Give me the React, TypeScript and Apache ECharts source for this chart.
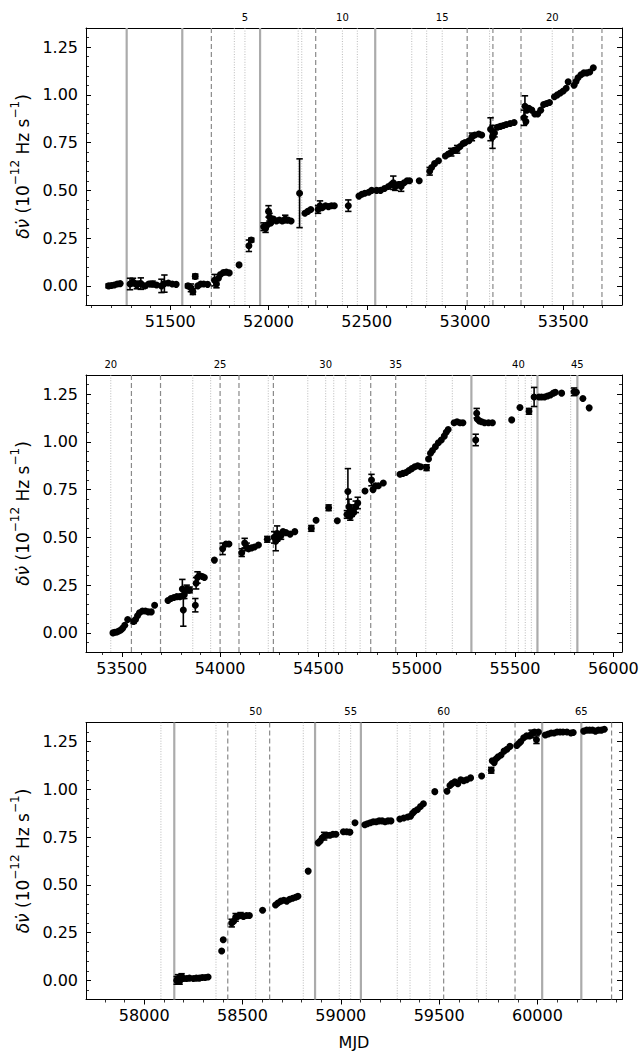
import React, { useEffect, useRef } from "react";
import * as echarts from "echarts";

// Glitch epochs (MJD) and their plotted style, glitch number = index + 1
const glitchMJD = [
  51278, 51561, 51709, 51826, 51880, 51957, 52151, 52169, 52240, 52376,
  52452, 52543, 52729, 52805, 52884, 53011, 53125, 53142, 53285, 53444,
  53549, 53697, 53861, 53952, 54000, 54096, 54245, 54271, 54446, 54537,
  54578, 54639, 54712, 54766, 54893, 55046, 55181, 55278, 55453, 55517,
  55552, 55583, 55614, 55783, 55817, 58085, 58153, 58365, 58425, 58567,
  58638, 58809, 58869, 58992, 59050, 59102, 59287, 59352, 59453, 59523,
  59692, 59740, 59886, 60024, 60223, 60377,
];
const glitchKind = [
  "solid", "solid", "dashed", "dotted", "dotted", "solid", "dotted", "dotted", "dashed", "dotted",
  "dotted", "solid", "dotted", "dotted", "dotted", "dashed", "dotted", "dashed", "dashed", "dotted",
  "dashed", "dashed", "dotted", "dotted", "dashed", "dashed", "dotted", "dashed", "dotted", "dotted",
  "dotted", "dotted", "dotted", "dashed", "dashed", "dotted", "dotted", "solid", "dotted", "dotted",
  "dotted", "dotted", "solid", "dotted", "solid", "dotted", "solid", "dotted", "dashed", "dotted",
  "dashed", "dotted", "solid", "dotted", "dotted", "solid", "dotted", "dotted", "dotted", "dashed",
  "dotted", "dotted", "dashed", "solid", "solid", "dashed",
];

// MJD window of each panel
const panelRanges = [
  [51071, 53799],
  [53318, 56044],
  [57704, 60430],
];
const yRange = [-0.1, 1.35];
const yMajor = [0, 0.25, 0.5, 0.75, 1.0, 1.25];

// [MJD, delta nu-dot (1e-12 Hz/s), 1-sigma error]
const panel1 = [
  [51186, 0.0, 0.01], [51200, 0.002, 0], [51215, 0.005, 0], [51230, 0.01, 0], [51245, 0.012, 0],
  [51295, 0.01, 0.03], [51310, 0.02, 0.02], [51330, 0.005, 0.02], [51350, 0.012, 0.03], [51370, 0.0, 0.01],
  [51390, 0.01, 0], [51410, 0.01, 0.015], [51430, 0.005, 0], [51455, 0.0, 0.035], [51470, 0.012, 0.045],
  [51490, 0.015, 0], [51510, 0.01, 0], [51530, 0.008, 0],
  [51590, 0.0, 0.01], [51605, -0.01, 0.02], [51615, -0.03, 0.015], [51627, 0.05, 0.012], [51640, 0.0, 0],
  [51655, 0.01, 0], [51670, 0.01, 0], [51690, 0.008, 0],
  [51725, 0.03, 0.03], [51735, 0.01, 0.02], [51745, 0.04, 0], [51755, 0.06, 0], [51770, 0.07, 0],
  [51785, 0.072, 0], [51800, 0.068, 0], [51850, 0.11, 0], [51900, 0.21, 0.03], [51912, 0.24, 0.01],
  [51975, 0.31, 0.02], [51985, 0.3, 0.02], [51995, 0.32, 0], [52000, 0.39, 0.03], [52005, 0.36, 0.02],
  [52012, 0.33, 0], [52025, 0.35, 0], [52040, 0.34, 0], [52055, 0.345, 0], [52070, 0.34, 0],
  [52085, 0.35, 0.02], [52100, 0.345, 0], [52115, 0.34, 0],
  [52158, 0.485, 0.18], [52185, 0.38, 0], [52200, 0.39, 0], [52215, 0.4, 0],
  [52252, 0.4, 0.02], [52262, 0.42, 0.025], [52275, 0.41, 0], [52290, 0.42, 0], [52305, 0.415, 0],
  [52320, 0.42, 0], [52335, 0.42, 0], [52406, 0.42, 0.03],
  [52460, 0.47, 0], [52475, 0.48, 0], [52490, 0.485, 0], [52510, 0.49, 0], [52525, 0.5, 0],
  [52550, 0.5, 0], [52570, 0.5, 0], [52590, 0.51, 0], [52610, 0.52, 0], [52625, 0.53, 0],
  [52635, 0.54, 0.035], [52645, 0.52, 0.02], [52660, 0.53, 0], [52675, 0.52, 0.025], [52690, 0.54, 0],
  [52705, 0.55, 0], [52718, 0.55, 0], [52767, 0.55, 0],
  [52820, 0.6, 0.02], [52830, 0.62, 0], [52845, 0.64, 0], [52865, 0.655, 0],
  [52900, 0.68, 0], [52915, 0.69, 0], [52930, 0.7, 0.02], [52945, 0.71, 0], [52960, 0.715, 0.02],
  [52975, 0.73, 0], [52990, 0.745, 0], [53000, 0.75, 0],
  [53020, 0.76, 0], [53035, 0.78, 0.02], [53050, 0.79, 0], [53070, 0.795, 0], [53085, 0.79, 0],
  [53130, 0.82, 0.06], [53140, 0.78, 0.06], [53150, 0.8, 0.02], [53165, 0.83, 0], [53180, 0.835, 0],
  [53195, 0.84, 0], [53210, 0.845, 0], [53230, 0.85, 0], [53250, 0.855, 0],
  [53300, 0.88, 0.04], [53305, 0.94, 0.055], [53310, 0.86, 0], [53315, 0.92, 0], [53325, 0.93, 0],
  [53340, 0.92, 0], [53355, 0.9, 0], [53370, 0.9, 0], [53385, 0.92, 0],
  [53400, 0.95, 0], [53415, 0.955, 0], [53430, 0.96, 0],
  [53455, 0.99, 0], [53470, 1.0, 0], [53485, 1.01, 0], [53500, 1.02, 0], [53515, 1.035, 0],
  [53525, 1.068, 0], [53555, 1.05, 0], [53565, 1.07, 0], [53575, 1.09, 0], [53590, 1.105, 0],
  [53605, 1.115, 0], [53620, 1.115, 0], [53635, 1.12, 0], [53653, 1.142, 0],
];

const panel2 = [
  [53455, 0.0, 0], [53465, 0.003, 0], [53475, 0.005, 0], [53485, 0.01, 0], [53495, 0.015, 0],
  [53505, 0.025, 0], [53515, 0.04, 0], [53530, 0.07, 0],
  [53560, 0.06, 0.01], [53570, 0.07, 0], [53580, 0.09, 0], [53590, 0.105, 0], [53605, 0.115, 0],
  [53620, 0.115, 0], [53635, 0.11, 0], [53650, 0.11, 0], [53667, 0.145, 0],
  [53735, 0.17, 0], [53750, 0.18, 0], [53765, 0.185, 0], [53780, 0.19, 0], [53795, 0.19, 0],
  [53808, 0.23, 0.05], [53813, 0.12, 0.085], [53818, 0.2, 0.02], [53830, 0.23, 0.02], [53845, 0.225, 0.015],
  [53874, 0.145, 0.035], [53878, 0.26, 0.03], [53885, 0.29, 0.03], [53895, 0.3, 0], [53910, 0.295, 0],
  [53920, 0.29, 0], [53971, 0.381, 0],
  [54013, 0.44, 0.03], [54030, 0.465, 0], [54045, 0.465, 0],
  [54110, 0.42, 0.02], [54125, 0.47, 0.025], [54135, 0.45, 0.02], [54145, 0.44, 0], [54160, 0.445, 0],
  [54175, 0.45, 0], [54195, 0.46, 0], [54240, 0.49, 0.015],
  [54275, 0.5, 0.03], [54283, 0.48, 0.05], [54290, 0.52, 0.04], [54300, 0.5, 0], [54310, 0.51, 0.02],
  [54320, 0.53, 0], [54335, 0.525, 0], [54356, 0.517, 0], [54380, 0.53, 0],
  [54464, 0.547, 0.015], [54488, 0.59, 0], [54552, 0.655, 0.015], [54596, 0.587, 0],
  [54645, 0.62, 0.02], [54650, 0.74, 0.12], [54655, 0.66, 0.04], [54662, 0.61, 0.02], [54670, 0.64, 0.03],
  [54680, 0.63, 0], [54690, 0.66, 0.03], [54700, 0.68, 0.03], [54737, 0.743, 0],
  [54770, 0.8, 0.03], [54778, 0.75, 0], [54790, 0.77, 0], [54805, 0.77, 0], [54830, 0.785, 0],
  [54915, 0.83, 0], [54930, 0.835, 0], [54945, 0.84, 0], [54960, 0.85, 0], [54975, 0.86, 0],
  [54990, 0.87, 0], [55005, 0.875, 0], [55020, 0.87, 0], [55050, 0.865, 0.015],
  [55060, 0.91, 0], [55070, 0.94, 0], [55080, 0.955, 0], [55095, 0.975, 0], [55110, 0.995, 0],
  [55125, 1.01, 0], [55140, 1.03, 0], [55150, 1.05, 0], [55160, 1.065, 0],
  [55190, 1.1, 0], [55205, 1.105, 0], [55220, 1.1, 0], [55235, 1.1, 0],
  [55300, 1.01, 0.03], [55305, 1.15, 0.025], [55308, 1.12, 0], [55318, 1.11, 0], [55330, 1.105, 0],
  [55345, 1.1, 0], [55365, 1.1, 0], [55385, 1.1, 0], [55483, 1.115, 0],
  [55525, 1.18, 0], [55571, 1.16, 0.015], [55597, 1.235, 0.05],
  [55622, 1.235, 0], [55635, 1.235, 0], [55650, 1.235, 0], [55665, 1.24, 0], [55680, 1.245, 0],
  [55695, 1.255, 0], [55705, 1.26, 0], [55737, 1.255, 0],
  [55800, 1.262, 0.02], [55812, 1.26, 0], [55845, 1.227, 0], [55877, 1.178, 0],
];

const panel3 = [
  [58165, 0.0, 0.02], [58172, 0.01, 0.02], [58180, -0.005, 0.015], [58190, 0.02, 0.015], [58200, 0.01, 0],
  [58215, 0.01, 0], [58230, 0.012, 0], [58250, 0.01, 0], [58265, 0.012, 0], [58280, 0.012, 0],
  [58295, 0.015, 0], [58310, 0.015, 0], [58325, 0.018, 0],
  [58394, 0.154, 0], [58402, 0.213, 0],
  [58445, 0.3, 0.02], [58455, 0.31, 0], [58465, 0.33, 0.02], [58475, 0.335, 0], [58490, 0.34, 0.015],
  [58505, 0.335, 0], [58520, 0.34, 0], [58535, 0.34, 0], [58602, 0.367, 0],
  [58668, 0.395, 0], [58680, 0.405, 0], [58695, 0.415, 0], [58710, 0.42, 0], [58725, 0.415, 0],
  [58740, 0.425, 0], [58755, 0.43, 0], [58770, 0.435, 0], [58782, 0.44, 0], [58834, 0.572, 0],
  [58885, 0.72, 0], [58895, 0.73, 0], [58905, 0.745, 0], [58915, 0.755, 0.02], [58930, 0.76, 0],
  [58945, 0.76, 0], [58960, 0.765, 0], [58975, 0.765, 0],
  [59013, 0.778, 0], [59030, 0.778, 0], [59046, 0.776, 0], [59072, 0.825, 0],
  [59122, 0.815, 0], [59135, 0.82, 0], [59150, 0.825, 0], [59165, 0.83, 0], [59180, 0.83, 0],
  [59195, 0.835, 0], [59210, 0.835, 0], [59225, 0.83, 0], [59240, 0.835, 0], [59255, 0.835, 0],
  [59300, 0.845, 0], [59320, 0.85, 0], [59340, 0.855, 0],
  [59355, 0.86, 0], [59365, 0.875, 0], [59375, 0.885, 0], [59390, 0.895, 0], [59405, 0.91, 0],
  [59420, 0.925, 0], [59478, 0.988, 0],
  [59540, 0.99, 0], [59555, 1.02, 0], [59565, 1.03, 0], [59580, 1.04, 0], [59595, 1.03, 0],
  [59610, 1.05, 0], [59625, 1.045, 0], [59640, 1.05, 0], [59660, 1.06, 0], [59716, 1.07, 0],
  [59765, 1.1, 0.015], [59770, 1.15, 0], [59780, 1.14, 0], [59790, 1.16, 0], [59800, 1.17, 0],
  [59815, 1.18, 0], [59830, 1.2, 0], [59845, 1.21, 0], [59860, 1.225, 0],
  [59895, 1.23, 0], [59905, 1.24, 0], [59915, 1.25, 0], [59930, 1.27, 0], [59945, 1.28, 0],
  [59960, 1.28, 0], [59970, 1.29, 0.02], [59985, 1.3, 0], [59995, 1.26, 0.02], [60005, 1.3, 0],
  [60040, 1.285, 0], [60055, 1.29, 0], [60070, 1.295, 0], [60085, 1.295, 0], [60100, 1.3, 0],
  [60115, 1.3, 0], [60130, 1.3, 0], [60150, 1.3, 0], [60170, 1.295, 0], [60182, 1.298, 0],
  [60235, 1.305, 0], [60250, 1.31, 0], [60265, 1.31, 0], [60280, 1.31, 0], [60295, 1.305, 0],
  [60310, 1.31, 0], [60325, 1.31, 0], [60340, 1.315, 0],
];

const panels = [panel1, panel2, panel3];

const FONT = "DejaVu Sans";
const gridTops = [28, 375, 722.5];
const GRID_LEFT = 86;
const GRID_W = 536;
const GRID_H = 277;

const lineStyles: Record<string, any> = {
  solid: { stroke: "#ababab", lineWidth: 2.2 },
  dashed: { stroke: "#8a8a8a", lineWidth: 1.2, lineDash: [5, 3] },
  dotted: { stroke: "#a8a8a8", lineWidth: 0.8, lineDash: [1, 1.6] },
};

function stepValues(lo: number, hi: number, step: number, skip?: number) {
  const out: number[] = [];
  const start = Math.ceil(lo / step) * step;
  for (let v = start; v <= hi + 1e-9; v += step) {
    const r = Math.round(v * 1000) / 1000;
    if (skip && Math.abs(r / skip - Math.round(r / skip)) < 1e-6) continue;
    out.push(r);
  }
  return out;
}

function buildOption() {
  const grid: any[] = [];
  const xAxis: any[] = [];
  const yAxis: any[] = [];
  const series: any[] = [];

  const yMinor = stepValues(yRange[0], yRange[1], 0.05, 0.25);

  panelRanges.forEach(([lo, hi], p) => {
    grid.push({ left: GRID_LEFT, top: gridTops[p], width: GRID_W, height: GRID_H });
    const xMajor = stepValues(lo, hi, 500);
    const xMinor = stepValues(lo, hi, 100, 500);
    const base = { type: "value", gridIndex: p, min: lo, max: hi, splitLine: { show: false } };

    xAxis.push({
      ...base,
      position: "bottom",
      axisLine: { show: true, onZero: false, lineStyle: { color: "#000", width: 1 } },
      axisTick: { show: true, inside: false, length: 5, customValues: xMajor, lineStyle: { color: "#000", width: 1 } },
      axisLabel: {
        show: true,
        customValues: xMajor,
        margin: 8,
        color: "#000",
        fontSize: 16,
        fontFamily: FONT,
        formatter: (v: number) => String(v),
      },
      name: p === 2 ? "MJD" : "",
      nameLocation: "middle",
      nameGap: 35,
      nameTextStyle: { color: "#000", fontSize: 16, fontFamily: FONT },
    });
    xAxis.push({
      ...base,
      position: "bottom",
      axisLine: { show: false, onZero: false },
      axisTick: { show: true, inside: false, length: 3, customValues: xMinor, lineStyle: { color: "#000", width: 0.8 } },
      axisLabel: { show: false },
    });
    xAxis.push({
      ...base,
      position: "top",
      axisLine: { show: true, onZero: false, lineStyle: { color: "#000", width: 1 } },
      axisTick: { show: false },
      axisLabel: { show: false },
    });

    const ybase = { type: "value", gridIndex: p, min: yRange[0], max: yRange[1], splitLine: { show: false } };
    yAxis.push({
      ...ybase,
      position: "left",
      axisLine: { show: true, onZero: false, lineStyle: { color: "#000", width: 1 } },
      axisTick: { show: true, inside: true, length: 5, customValues: yMajor, lineStyle: { color: "#000", width: 1 } },
      axisLabel: {
        show: true,
        customValues: yMajor,
        margin: 8,
        color: "#000",
        fontSize: 16,
        fontFamily: FONT,
        formatter: (v: number) => v.toFixed(2),
      },
      name: "{i|δν̇}{t| (10}{s|−12}{t| Hz s}{s|−1}{t|)}",
      nameLocation: "middle",
      nameGap: 34,
      nameTextStyle: {
        color: "#000",
        fontSize: 17,
        fontFamily: FONT,
        rich: {
          i: { fontStyle: "italic", fontSize: 17, fontFamily: FONT, color: "#000", lineHeight: 22, verticalAlign: "bottom" },
          t: { fontSize: 17, fontFamily: FONT, color: "#000", lineHeight: 22, verticalAlign: "bottom" },
          s: { fontSize: 12, fontFamily: FONT, color: "#000", lineHeight: 22, verticalAlign: "top" },
        },
      },
    });
    yAxis.push({
      ...ybase,
      position: "left",
      axisLine: { show: false, onZero: false },
      axisTick: { show: true, inside: true, length: 3, customValues: yMinor, lineStyle: { color: "#000", width: 0.8 } },
      axisLabel: { show: false },
    });
    yAxis.push({
      ...ybase,
      position: "right",
      axisLine: { show: true, onZero: false, lineStyle: { color: "#000", width: 1 } },
      axisTick: { show: true, inside: true, length: 5, customValues: yMajor, lineStyle: { color: "#000", width: 1 } },
      axisLabel: { show: false },
    });
    yAxis.push({
      ...ybase,
      position: "right",
      axisLine: { show: false, onZero: false },
      axisTick: { show: true, inside: true, length: 3, customValues: yMinor, lineStyle: { color: "#000", width: 0.8 } },
      axisLabel: { show: false },
    });

    const xi = p * 3;
    const yi = p * 4;

    // glitch epochs inside this panel: [mjd, 0, kindIndex, glitchNumber]
    const kinds = ["solid", "dashed", "dotted"];
    const glitchData = glitchMJD
      .map((m, i) => [m, 0, kinds.indexOf(glitchKind[i]), i + 1])
      .filter((g) => g[0] > lo && g[0] < hi);

    series.push({
      type: "custom",
      xAxisIndex: xi,
      yAxisIndex: yi,
      z: 1,
      silent: true,
      clip: false,
      data: glitchData,
      renderItem: (params: any, api: any) => {
        const m = api.value(0);
        const kind = kinds[api.value(2)];
        const num = api.value(3);
        const top = api.coord([m, yRange[1]]);
        const bot = api.coord([m, yRange[0]]);
        const children: any[] = [
          {
            type: "line",
            shape: { x1: top[0], y1: top[1], x2: bot[0], y2: bot[1] },
            style: { ...lineStyles[kind], fill: null },
          },
        ];
        if (num % 5 === 0) {
          children.push({
            type: "text",
            x: top[0],
            y: top[1] - 6,
            style: {
              text: String(num),
              fill: "#000",
              fontSize: 10,
              fontFamily: FONT,
              align: "center",
              verticalAlign: "bottom",
            },
          });
        }
        return { type: "group", children };
      },
    });

    series.push({
      type: "custom",
      xAxisIndex: xi,
      yAxisIndex: yi,
      z: 2,
      silent: true,
      data: panels[p].filter((d) => d[2] > 0),
      renderItem: (params: any, api: any) => {
        const x = api.value(0);
        const y = api.value(1);
        const e = api.value(2);
        const t = api.coord([x, y + e]);
        const b = api.coord([x, y - e]);
        const w = 3.2;
        const st = { stroke: "#000", lineWidth: 1.6 };
        return {
          type: "group",
          children: [
            { type: "line", shape: { x1: t[0], y1: t[1], x2: b[0], y2: b[1] }, style: st },
            { type: "line", shape: { x1: t[0] - w, y1: t[1], x2: t[0] + w, y2: t[1] }, style: st },
            { type: "line", shape: { x1: b[0] - w, y1: b[1], x2: b[0] + w, y2: b[1] }, style: st },
          ],
        };
      },
    });

    series.push({
      type: "scatter",
      xAxisIndex: xi,
      yAxisIndex: yi,
      z: 3,
      silent: true,
      symbol: "circle",
      symbolSize: 7,
      itemStyle: { color: "#000", opacity: 1 },
      data: panels[p].map((d) => [d[0], d[1]]),
    });
  });

  return {
    animation: false,
    backgroundColor: "#fff",
    textStyle: { fontFamily: FONT },
    grid,
    xAxis,
    yAxis,
    series,
  };
}

export default function App() {
  const ref = useRef<HTMLDivElement>(null);
  useEffect(() => {
    if (!ref.current) return;
    const chart = echarts.init(ref.current, undefined, { renderer: "svg" });
    chart.setOption(buildOption() as any);
    return () => chart.dispose();
  }, []);
  return (
    <div
      ref={ref}
      style={{ position: "fixed", left: 0, top: 0, width: 644, height: 1060, background: "#fff" }}
    />
  );
}
